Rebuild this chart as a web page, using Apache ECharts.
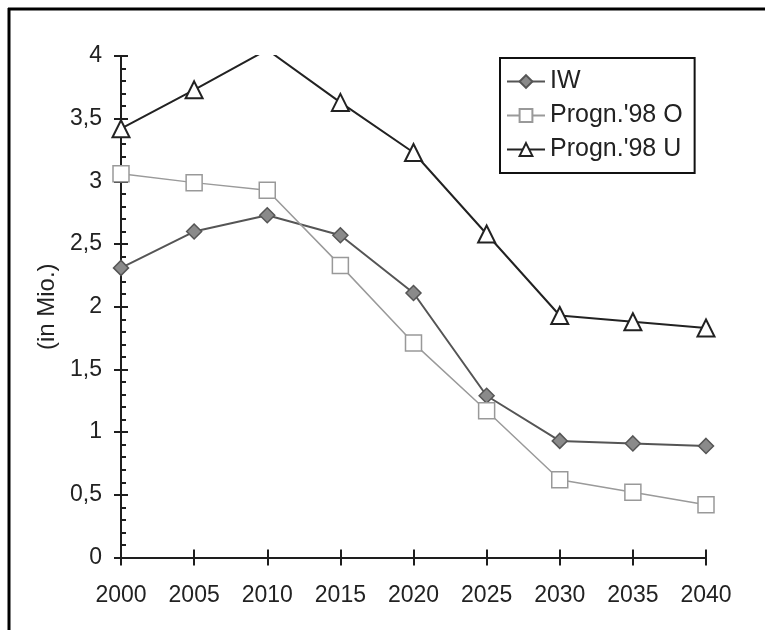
<!DOCTYPE html>
<html>
<head>
<meta charset="utf-8">
<script src="https://cdn.jsdelivr.net/npm/echarts@6/dist/echarts.min.js"></script>
<style>
html,body{margin:0;padding:0;background:#fff;}
#c{width:765px;height:630px;}
</style>
</head>
<body>
<div id="c"></div>
<script>
var years = [2000, 2005, 2010, 2015, 2020, 2025, 2030, 2035, 2040];
var seriesNames = ['IW', "Progn.'98 O", "Progn.'98 U"];
var iw = [2.31, 2.60, 2.73, 2.57, 2.11, 1.29, 0.93, 0.91, 0.89];
var prognO = [3.06, 2.99, 2.93, 2.33, 1.71, 1.17, 0.62, 0.52, 0.42];
var prognU = [3.42, 3.73, 4.05, 3.63, 3.23, 2.58, 1.93, 1.88, 1.83];
var yTickLabels = ['0', '0,5', '1', '1,5', '2', '2,5', '3', '3,5', '4'];
var yAxisName = '(in Mio.)';

function pairs(vals) { return years.map(function (y, i) { return [y, vals[i]]; }); }
function yFmt(v) { var i = Math.round(v / 0.5); return yTickLabels[i] !== undefined ? yTickLabels[i] : ''; }

var font = 'Liberation Sans, Arial, sans-serif';
var chart = echarts.init(document.getElementById('c'), null, {renderer: 'canvas'});
var axisCol = '#1e1e1e';
chart.setOption({
  backgroundColor: '#ffffff',
  animation: false,
  textStyle: {fontFamily: font},
  grid: {left: 121, right: 59, top: 56, bottom: 72.5, containLabel: false},
  legend: {
    orient: 'vertical', left: 500, top: 58,
    padding: [11, 12, 11, 6], itemGap: 9,
    itemWidth: 38, itemHeight: 16,
    borderColor: '#111', borderWidth: 2, backgroundColor: '#fff',
    textStyle: {fontSize: 25, color: '#222', fontFamily: font},
    data: seriesNames
  },
  xAxis: [{
    type: 'value', min: 2000, max: 2040, interval: 5,
    axisLine: {show: true, lineStyle: {color: axisCol, width: 2}},
    axisTick: {show: true, inside: false, length: 8, lineStyle: {color: axisCol, width: 2}},
    axisLabel: {fontSize: 23, color: '#222', margin: 27, formatter: function (v) { return String(v); }},
    splitLine: {show: false}
  }, {
    type: 'value', min: 2000, max: 2040, interval: 5, position: 'bottom', offset: 0,
    axisLine: {show: false},
    axisTick: {show: true, inside: true, length: 8, lineStyle: {color: axisCol, width: 2}},
    axisLabel: {show: false},
    splitLine: {show: false}
  }],
  yAxis: [{
    type: 'value', min: 0, max: 4, interval: 0.5, position: 'left',
    name: yAxisName, nameLocation: 'middle', nameGap: 62, nameRotate: 90,
    nameTextStyle: {fontSize: 24, color: '#222', fontFamily: font},
    axisLine: {show: true, lineStyle: {color: axisCol, width: 2}},
    axisTick: {show: true, inside: false, length: 7, lineStyle: {color: axisCol, width: 2}},
    axisLabel: {fontSize: 23, color: '#222', margin: 19, formatter: yFmt},
    splitLine: {show: false}
  }, {
    type: 'value', min: 0, max: 4, interval: 0.5, position: 'left', offset: 0,
    axisLine: {show: false},
    axisTick: {show: true, inside: true, length: 7, lineStyle: {color: axisCol, width: 2}},
    minorTick: {show: true, splitNumber: 5, length: 5, lineStyle: {color: axisCol, width: 2}},
    axisLabel: {show: false},
    splitLine: {show: false}
  }],
  series: [{
    name: seriesNames[0], type: 'line', data: pairs(iw),
    symbol: 'diamond', symbolSize: 15, clip: true,
    lineStyle: {color: '#555', width: 2},
    itemStyle: {color: '#8a8a8a', borderColor: '#555', borderWidth: 1.5}
  }, {
    name: seriesNames[1], type: 'line', data: pairs(prognO),
    symbol: 'rect', symbolSize: 16, clip: true,
    lineStyle: {color: '#9a9a9a', width: 1.5},
    itemStyle: {color: '#ffffff', borderColor: '#999', borderWidth: 1.5}
  }, {
    name: seriesNames[2], type: 'line', data: pairs(prognU),
    symbol: 'triangle', symbolSize: 17, clip: true,
    lineStyle: {color: '#222', width: 2},
    itemStyle: {color: '#ffffff', borderColor: '#222', borderWidth: 2}
  }],
  graphic: [
    {type: 'line', shape: {x1: 8, y1: 9, x2: 765, y2: 9}, style: {stroke: '#000', lineWidth: 3}},
    {type: 'line', shape: {x1: 9, y1: 8, x2: 9, y2: 630}, style: {stroke: '#000', lineWidth: 3}}
  ]
});
</script>
</body>
</html>
